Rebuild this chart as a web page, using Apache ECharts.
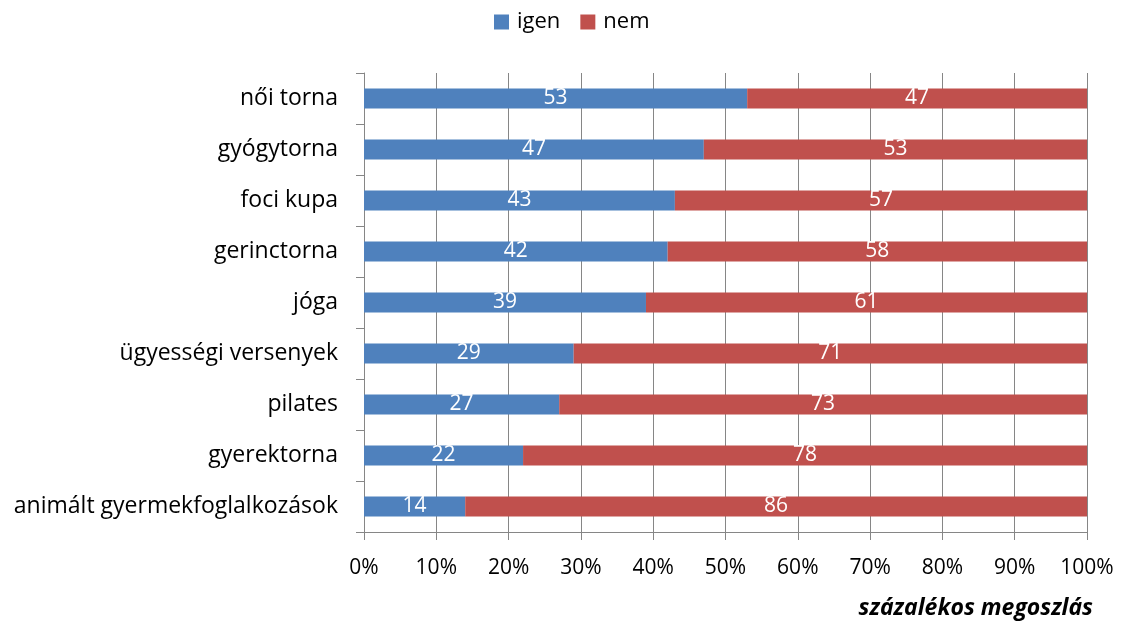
<!DOCTYPE html>
<html>
<head>
<meta charset="utf-8">
<script src="https://cdn.jsdelivr.net/npm/echarts@6/dist/echarts.min.js"></script>
<style>html,body{margin:0;padding:0;background:#fff;}#c{width:1122px;height:626px;}</style>
</head>
<body>
<div id="c"></div>
<script>
const categories = ["animált gyermekfoglalkozások","gyerektorna","pilates","ügyességi versenyek","jóga","gerinctorna","foci kupa","gyógytorna","női torna"];
const igen = [14,22,27,29,39,42,43,47,53];
const nem = [86,78,73,71,61,58,57,53,47];
const seriesNames = ["igen","nem"];
const axisTitle = "százalékos megoszlás";

const FONT = "Open Sans";
const chart = echarts.init(document.getElementById('c'));
chart.setOption({
  animation:false,
  textStyle:{fontFamily:FONT},
  legend:{
    top:6, left:489, itemWidth:15, itemHeight:15, itemGap:20,
    icon:'rect',
    textStyle:{fontSize:22, color:'#000', fontFamily:FONT, padding:[0,0,0,3]},
    data:seriesNames
  },
  title:{
    text:axisTitle, right:29, top:597, padding:0,
    textStyle:{fontSize:23, fontWeight:'bold', fontStyle:'italic', color:'#000', fontFamily:FONT}
  },
  grid:{left:364, right:35, top:73, bottom:94},
  xAxis:{
    type:'value', min:0, max:100, interval:10,
    axisLine:{show:true, lineStyle:{color:'#868686', width:1}},
    axisTick:{show:true, length:8, lineStyle:{color:'#868686'}},
    splitLine:{show:true, lineStyle:{color:'#868686', width:1}},
    axisLabel:{formatter:'{value}%', fontSize:21, color:'#000', margin:26, fontFamily:FONT}
  },
  yAxis:{
    type:'category', data:categories,
    axisLine:{show:true, lineStyle:{color:'#868686', width:1}},
    axisTick:{show:true, length:8, lineStyle:{color:'#868686'}},
    axisLabel:{fontSize:23, color:'#000', margin:26, fontFamily:FONT}
  },
  series:[
    {name:seriesNames[0], type:'bar', stack:'s', data:igen, barWidth:'39%',
     itemStyle:{color:'#4F81BD'},
     label:{show:true, position:'inside', color:'#fff', fontSize:21, fontFamily:FONT}},
    {name:seriesNames[1], type:'bar', stack:'s', data:nem, barWidth:'39%',
     itemStyle:{color:'#C0504D'},
     label:{show:true, position:'inside', color:'#fff', fontSize:21, fontFamily:FONT}}
  ]
});
</script>
</body>
</html>
